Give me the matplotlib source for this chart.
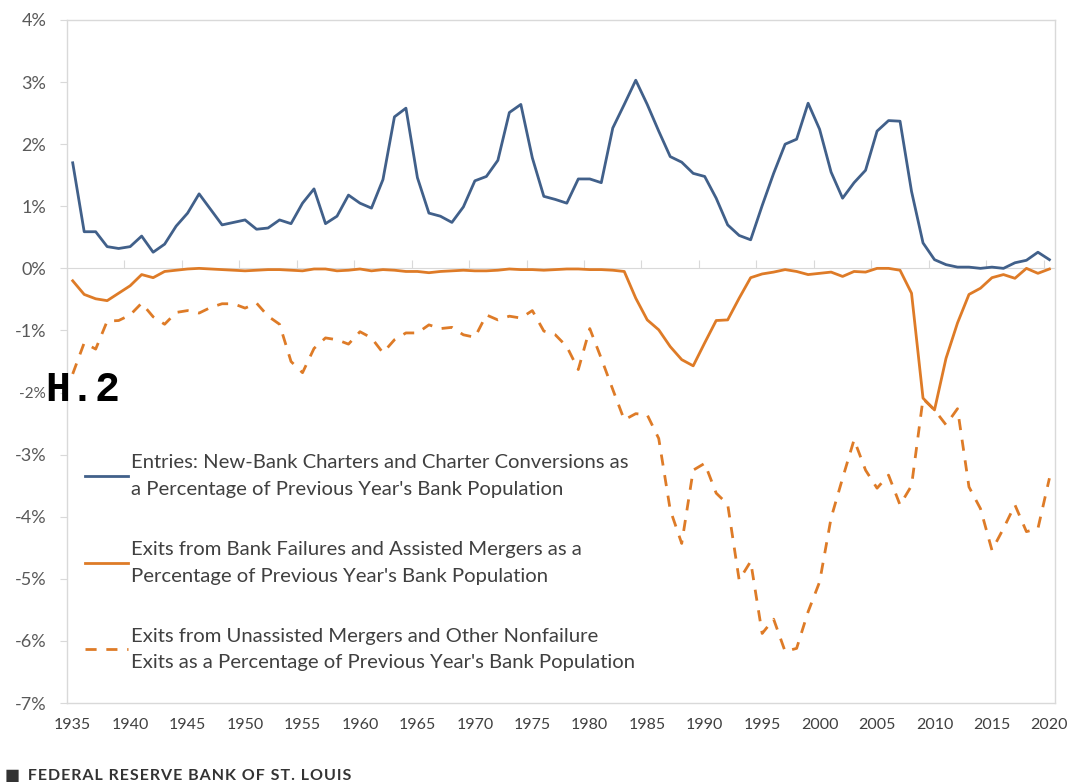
import numpy as np
import matplotlib.pyplot as plt

# bank entries and exits, percent of previous year's bank population
years = list(range(1935, 2021))

entries = [
    1.70, 0.59, 0.59, 0.35, 0.32, 0.35, 0.52, 0.26, 0.39, 0.68,
    0.89, 1.20, 0.95, 0.70, 0.74, 0.78, 0.63, 0.65, 0.78, 0.72,
    1.05, 1.28, 0.72, 0.84, 1.18, 1.05, 0.97, 1.43, 2.44, 2.58,
    1.46, 0.89, 0.84, 0.74, 0.99, 1.41, 1.48, 1.74, 2.51, 2.64,
    1.78, 1.16, 1.11, 1.05, 1.44, 1.44, 1.38, 2.26, 2.64, 3.03,
    2.64, 2.21, 1.80, 1.71, 1.53, 1.48, 1.13, 0.70, 0.53, 0.46,
    1.01, 1.53, 2.00, 2.08, 2.66, 2.24, 1.55, 1.13, 1.38, 1.58,
    2.21, 2.38, 2.37, 1.24, 0.41, 0.14, 0.06, 0.02, 0.02, 0.00,
    0.02, 0.00, 0.09, 0.13, 0.26, 0.14,
]

failures = [
    -0.20, -0.42, -0.49, -0.52, -0.40, -0.28, -0.10, -0.15, -0.05, -0.03,
    -0.01, 0.00, -0.01, -0.02, -0.03, -0.04, -0.03, -0.02, -0.02, -0.03,
    -0.04, -0.01, -0.01, -0.04, -0.03, -0.01, -0.04, -0.02, -0.03, -0.05,
    -0.05, -0.07, -0.05, -0.04, -0.03, -0.04, -0.04, -0.03, -0.01, -0.02,
    -0.02, -0.03, -0.02, -0.01, -0.01, -0.02, -0.02, -0.03, -0.05, -0.48,
    -0.83, -0.99, -1.26, -1.47, -1.57, -1.20, -0.84, -0.83, -0.48, -0.15,
    -0.09, -0.06, -0.02, -0.05, -0.10, -0.08, -0.06, -0.13, -0.05, -0.06,
    0.00, 0.00, -0.03, -0.40, -2.09, -2.28, -1.45, -0.88, -0.42, -0.32,
    -0.15, -0.10, -0.16, 0.00, -0.08, -0.01,
]

nonfailure = [
    -1.70, -1.20, -1.30, -0.85, -0.84, -0.75, -0.56, -0.78, -0.90, -0.71,
    -0.68, -0.72, -0.63, -0.57, -0.57, -0.64, -0.56, -0.77, -0.90, -1.50,
    -1.68, -1.29, -1.12, -1.15, -1.22, -1.02, -1.12, -1.36, -1.15, -1.04,
    -1.04, -0.91, -0.97, -0.95, -1.07, -1.11, -0.75, -0.83, -0.77, -0.80,
    -0.68, -1.01, -1.07, -1.26, -1.63, -0.97, -1.45, -1.95, -2.44, -2.34,
    -2.36, -2.74, -3.89, -4.43, -3.25, -3.14, -3.62, -3.80, -5.02, -4.72,
    -5.88, -5.65, -6.17, -6.12, -5.53, -5.05, -4.02, -3.38, -2.76, -3.25,
    -3.54, -3.33, -3.81, -3.50, -2.10, -2.28, -2.52, -2.26, -3.52, -3.87,
    -4.54, -4.19, -3.81, -4.24, -4.19, -3.38,
]

labels = [
    "Entries: New-Bank Charters and Charter Conversions as\na Percentage of Previous Year's Bank Population",
    "Exits from Bank Failures and Assisted Mergers as a\nPercentage of Previous Year's Bank Population",
    "Exits from Unassisted Mergers and Other Nonfailure\nExits as a Percentage of Previous Year's Bank Population",
]

y_ticks = list(range(-7, 5))
x_ticks = list(range(1935, 2021, 5))

blue = '#41608A'
orange = '#DE7B27'
grey = '#D9D9D9'
text_col = '#404040'

plt.rcParams['font.family'] = ['Lato', 'DejaVu Sans']

fig, ax = plt.subplots(figsize=(10.8, 7.84), dpi=100)
fig.subplots_adjust(left=0.062, right=0.977, top=0.9745, bottom=0.1033)

ax.plot(years, entries, color=blue, lw=2.0, label=labels[0])
ax.plot(years, failures, color=orange, lw=2.0, label=labels[1])
ax.plot(years, nonfailure, color=orange, lw=2.0, ls=(0, (4, 3.5)), label=labels[2])

ymin, ymax = -7, 4
ax.set_ylim(ymin, ymax)
ax.set_xlim(1934.5, 2020.5)

for s in ax.spines.values():
    s.set_color(grey)
    s.set_linewidth(1)

ax.set_yticks(y_ticks)
ax.set_yticklabels([f'{v}%' for v in y_ticks])
ax.tick_params(axis='y', length=5, color=grey, pad=10, labelsize=13, labelcolor='#595959')
for t in ax.get_yticklabels():
    if t.get_text() == '-2%':
        t.set_fontsize(11)

ax.set_xticks(x_ticks)
ax.tick_params(axis='x', length=0, pad=11, labelcolor=text_col)
for t in ax.get_xticklabels():
    t.set_fontfamily(['Liberation Sans Narrow', 'Lato'])
    t.set_fontsize(11.5)

# category axis crossing at zero, ticks between categories
zero = ax.secondary_xaxis((0 - ymin) / (ymax - ymin))
zero.set_xticks(np.arange(1939.5, 2020, 5))
zero.tick_params(length=6, color=grey, labeltop=False, labelbottom=False)
zero.spines['top'].set_color(grey)
zero.spines['top'].set_visible(True)

leg = ax.legend(loc='upper left', bbox_to_anchor=(85 / 1080, 1 - 454 / 784),
                bbox_transform=fig.transFigure, frameon=False, fontsize=14.6,
                handlelength=2.1, handletextpad=0.15, borderpad=0, borderaxespad=0,
                labelspacing=2.12)
for t in leg.get_texts():
    t.set_color(text_col)
    t.set_linespacing(1.7)

fig.text(45 / 1080, 1 - 401 / 784, 'H.2', family='Liberation Mono', weight='bold',
         fontsize=30, color='black', va='baseline', ha='left')

footer = '\u200a'.join('FEDERAL RESERVE BANK OF ST. LOUIS')
fig.text(5 / 1080, 1 - 776 / 784, '\u25A0  ' + footer,
         fontsize=11.5, color='#333333', va='center', ha='left', weight='bold')

plt.savefig('out.png', dpi=100)
plt.close()
